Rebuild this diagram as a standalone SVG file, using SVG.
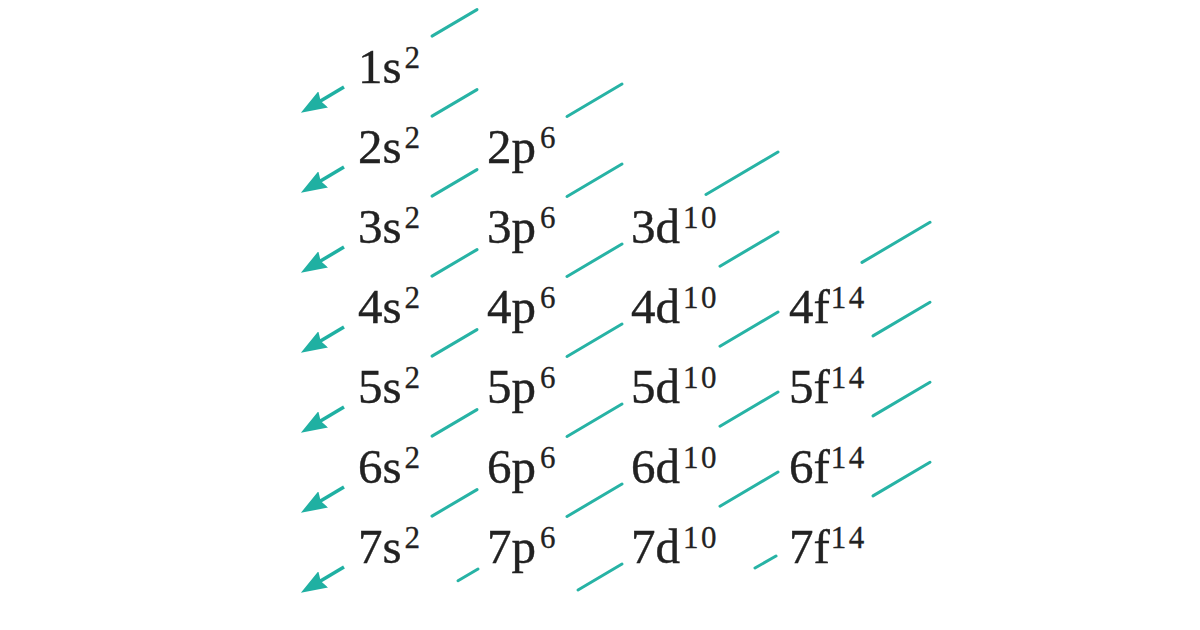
<svg xmlns="http://www.w3.org/2000/svg" width="1200" height="630" viewBox="0 0 1200 630">
<style>
.t{font-family:"Liberation Serif","DejaVu Serif",serif;font-size:49px;fill:#222;stroke:#222;stroke-width:0.4px}
.s{font-size:31px;letter-spacing:2.5px;stroke-width:0.3px}
.ln{stroke:#27b3a5;stroke-width:3;fill:none;stroke-linecap:round}
.ar{stroke:#1fb0a2;stroke-width:3.5;fill:none}
</style>
<defs>
<marker id="ah" viewBox="0 0 26 19" refX="14" refY="9.5" markerWidth="26" markerHeight="19" markerUnits="userSpaceOnUse" orient="auto">
<path d="M0,0 L26,9.5 L0,19 L3,9.5 z" fill="#1fb0a2"/>
</marker>
</defs>
<rect width="1200" height="630" fill="#fff"/>
<g id="connectors">
<g id="arrows" class="ar" marker-end="url(#ah)">
<line x1="344" y1="87" x2="311.2" y2="106.6"/>
<line x1="344" y1="167" x2="311.2" y2="186.6"/>
<line x1="344" y1="247" x2="311.2" y2="266.6"/>
<line x1="344" y1="327" x2="311.2" y2="346.6"/>
<line x1="344" y1="407" x2="311.2" y2="426.6"/>
<line x1="344" y1="487" x2="311.2" y2="506.6"/>
<line x1="344" y1="567" x2="311.2" y2="586.6"/>
</g>
<g id="diagonals" class="ln">
<line x1="432" y1="36.1" x2="477" y2="9.6"/>
<line x1="432" y1="116.1" x2="477" y2="89.6"/>
<line x1="432" y1="196.1" x2="477" y2="169.6"/>
<line x1="567" y1="116.5" x2="622" y2="84"/>
<line x1="432" y1="276.1" x2="477" y2="249.6"/>
<line x1="567" y1="196.5" x2="622" y2="164"/>
<line x1="432" y1="356.1" x2="477" y2="329.6"/>
<line x1="567" y1="276.5" x2="622" y2="244"/>
<line x1="706" y1="194.5" x2="778" y2="152"/>
<line x1="432" y1="436.1" x2="477" y2="409.6"/>
<line x1="567" y1="356.5" x2="622" y2="324"/>
<line x1="720" y1="266.2" x2="778" y2="232"/>
<line x1="432" y1="516.1" x2="477" y2="489.6"/>
<line x1="567" y1="436.5" x2="622" y2="404"/>
<line x1="720" y1="346.2" x2="778" y2="312"/>
<line x1="862" y1="262.4" x2="930" y2="222.3"/>
<line x1="458" y1="580.8" x2="478" y2="569"/>
<line x1="567" y1="516.5" x2="622" y2="484"/>
<line x1="720" y1="426.2" x2="778" y2="392"/>
<line x1="873" y1="335.9" x2="930" y2="302.3"/>
<line x1="578" y1="590" x2="622" y2="564"/>
<line x1="720" y1="506.2" x2="778" y2="472"/>
<line x1="873" y1="415.9" x2="930" y2="382.3"/>
<line x1="755" y1="568" x2="776" y2="556"/>
<line x1="873" y1="495.9" x2="930" y2="462.3"/>
</g>
</g>
<g id="n1s"><text class="t" x="358" y="83">1s<tspan class="s" dx="3" dy="-15">2</tspan></text></g>
<g id="n2s"><text class="t" x="358" y="163">2s<tspan class="s" dx="3" dy="-15">2</tspan></text></g>
<g id="n2p"><text class="t" x="487" y="163">2p<tspan class="s" dx="4" dy="-15">6</tspan></text></g>
<g id="n3s"><text class="t" x="358" y="243">3s<tspan class="s" dx="3" dy="-15">2</tspan></text></g>
<g id="n3p"><text class="t" x="487" y="243">3p<tspan class="s" dx="4" dy="-15">6</tspan></text></g>
<g id="n3d"><text class="t" x="631" y="243">3d<tspan class="s" dx="3" dy="-15">10</tspan></text></g>
<g id="n4s"><text class="t" x="358" y="323">4s<tspan class="s" dx="3" dy="-15">2</tspan></text></g>
<g id="n4p"><text class="t" x="487" y="323">4p<tspan class="s" dx="4" dy="-15">6</tspan></text></g>
<g id="n4d"><text class="t" x="631" y="323">4d<tspan class="s" dx="3" dy="-15">10</tspan></text></g>
<g id="n4f"><text class="t" x="789" y="323">4f<tspan class="s" dx="1" dy="-15">14</tspan></text></g>
<g id="n5s"><text class="t" x="358" y="403">5s<tspan class="s" dx="3" dy="-15">2</tspan></text></g>
<g id="n5p"><text class="t" x="487" y="403">5p<tspan class="s" dx="4" dy="-15">6</tspan></text></g>
<g id="n5d"><text class="t" x="631" y="403">5d<tspan class="s" dx="3" dy="-15">10</tspan></text></g>
<g id="n5f"><text class="t" x="789" y="403">5f<tspan class="s" dx="1" dy="-15">14</tspan></text></g>
<g id="n6s"><text class="t" x="358" y="483">6s<tspan class="s" dx="3" dy="-15">2</tspan></text></g>
<g id="n6p"><text class="t" x="487" y="483">6p<tspan class="s" dx="4" dy="-15">6</tspan></text></g>
<g id="n6d"><text class="t" x="631" y="483">6d<tspan class="s" dx="3" dy="-15">10</tspan></text></g>
<g id="n6f"><text class="t" x="789" y="483">6f<tspan class="s" dx="1" dy="-15">14</tspan></text></g>
<g id="n7s"><text class="t" x="358" y="563">7s<tspan class="s" dx="3" dy="-15">2</tspan></text></g>
<g id="n7p"><text class="t" x="487" y="563">7p<tspan class="s" dx="4" dy="-15">6</tspan></text></g>
<g id="n7d"><text class="t" x="631" y="563">7d<tspan class="s" dx="3" dy="-15">10</tspan></text></g>
<g id="n7f"><text class="t" x="789" y="563">7f<tspan class="s" dx="1" dy="-15">14</tspan></text></g>
</svg>
